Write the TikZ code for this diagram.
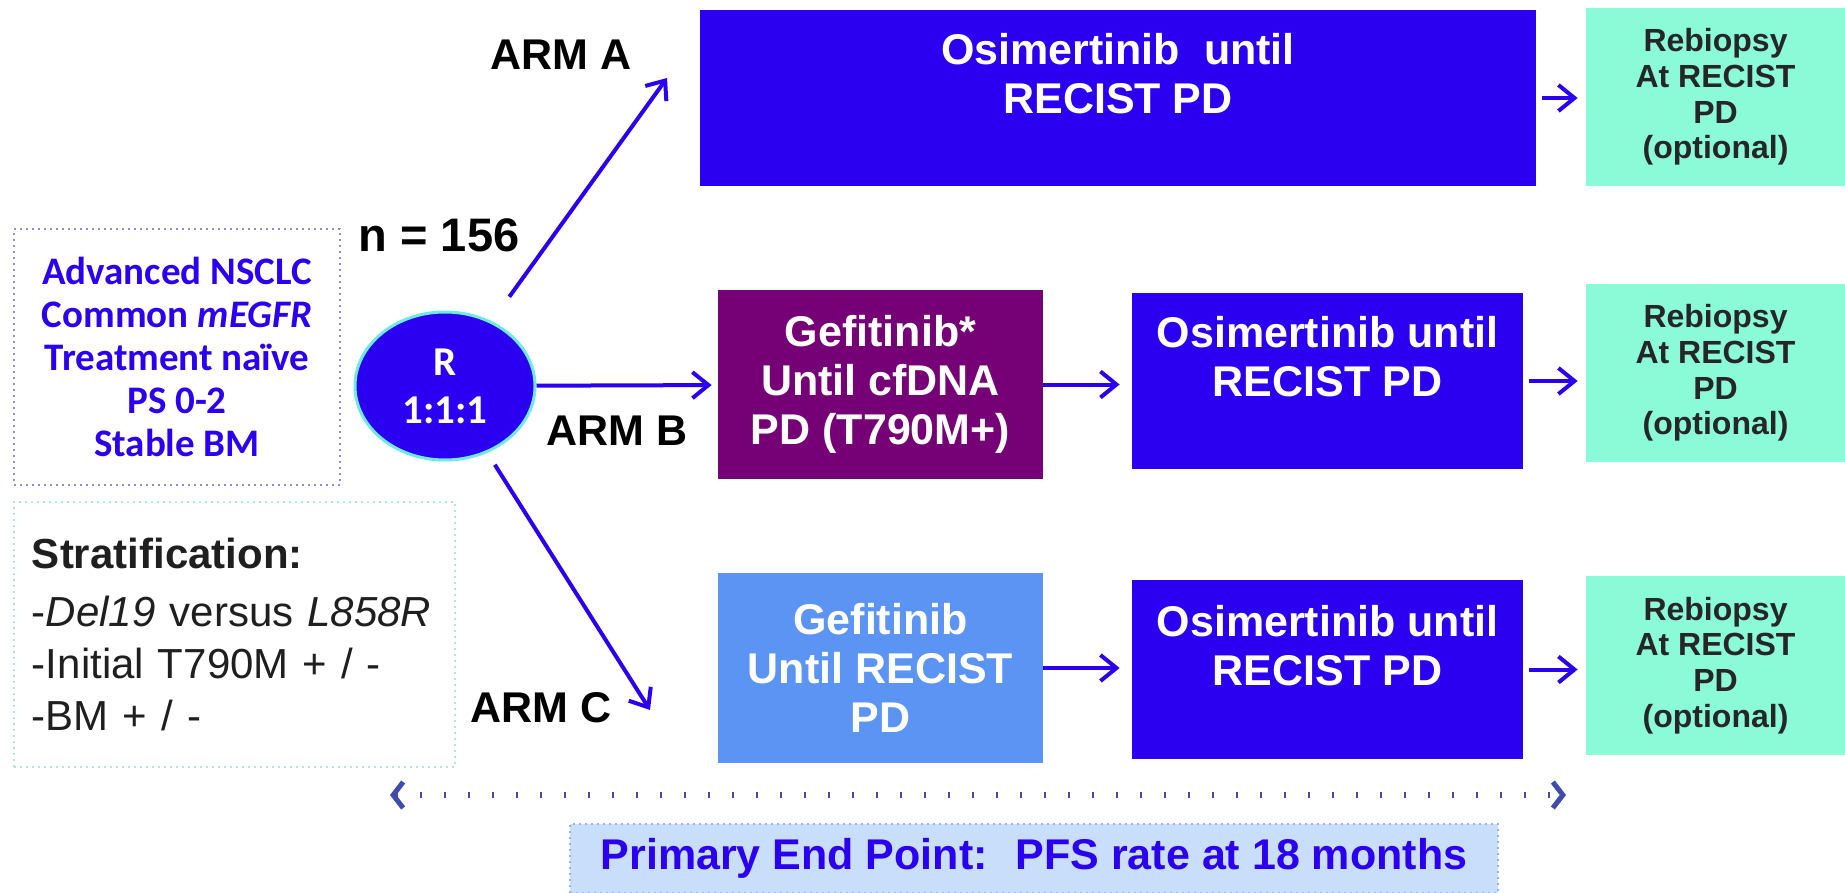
\documentclass[tikz,border=0pt]{standalone}
\usepackage{fontspec}
\setmainfont{Liberation Sans}
\newfontfamily\calib{Carlito}
\usetikzlibrary{shapes.geometric,arrows.meta}
\definecolor{armblue}{RGB}{43,0,240}
\definecolor{armpurple}{RGB}{118,0,118}
\definecolor{armsky}{RGB}{92,148,244}
\definecolor{rebio}{RGB}{138,250,215}
\definecolor{rring}{RGB}{110,235,225}
\definecolor{dotline}{RGB}{65,75,175}
\definecolor{pepfill}{RGB}{200,222,250}
\definecolor{pepline}{RGB}{150,180,240}
\definecolor{inclline}{RGB}{140,140,230}
\definecolor{stratline}{RGB}{185,225,225}

\begin{document}
\begin{tikzpicture}[x=0.5pt,y=-0.5pt,every node/.style={inner sep=0pt},
 drug/.style={fill=armblue,text=white,align=center,minimum width=195.5pt,minimum height=88pt,
  font=\fontsize{21.5}{24.5}\selectfont\bfseries},
 rebox/.style={fill=rebio,text=black!85,align=center,minimum width=129.5pt,minimum height=89pt,
  font=\fontsize{16}{17.8}\selectfont\bfseries},
 armlab/.style={font=\fontsize{21.5}{24}\selectfont\bfseries},
 arr/.style={draw=armblue,line width=2pt,-{Straight Barb[length=8pt,width=13pt]}}]
\useasboundingbox (0,0) rectangle (1845,893);
\fill[white] (0,0) rectangle (1845,893);
\node[drug,minimum width=418pt] (oA) at (1118,98) {Osimertinib~ until\\RECIST PD\\\mbox{}};
\node[drug] (oB) at (1327.5,381) {Osimertinib until\\RECIST PD\\\mbox{}};
\node[drug,minimum height=89.5pt] (oC) at (1327.5,669.5) {Osimertinib until\\RECIST PD\\\mbox{}};
\node[drug,fill=armpurple,minimum width=162.5pt,minimum height=94.5pt] (gB) at (880.5,384.5) {Gefitinib*\\Until cfDNA\\PD (T790M+)};
\node[drug,fill=armsky,minimum width=162.5pt,minimum height=95pt] (gC) at (880.5,668) {Gefitinib\\Until RECIST\\PD};
\node[rebox] (rA) at (1715.5,97) {Rebiopsy\\At RECIST\\PD\\(optional)};
\node[rebox] (rB) at (1715.5,373) {Rebiopsy\\At RECIST\\PD\\(optional)};
\node[rebox,minimum height=89.5pt] (rC) at (1715.5,665.5) {Rebiopsy\\At RECIST\\PD\\(optional)};
\node[ellipse,fill=armblue,draw=rring,line width=1.5pt,minimum width=90pt,minimum height=74pt,
 text=white,align=center,font=\calib\fontsize{20.5}{24}\selectfont\bfseries] (R) at (445,386) {R\\1:1:1};
\node[armlab] (lA) at (561,55) {ARM A};
\node[armlab] (lB) at (617,431) {ARM B};
\node[armlab] (lC) at (541,708) {ARM C};
\node[armlab,font=\fontsize{23.5}{28}\selectfont\bfseries] (n) at (439,235) {n = 156};
\node[draw=inclline,dotted,line width=1pt,minimum width=163pt,minimum height=128pt,text=armblue,align=center,
 font=\calib\fontsize{19.5}{21.5}\selectfont\bfseries] (incl) at (177,357)
 {Advanced NSCLC\\Common \textit{mEGFR}\\Treatment naïve\\PS 0-2\\Stable BM};
\node[draw=stratline,dotted,line width=1pt,text width=202.5pt,inner xsep=9pt,minimum height=132.5pt,align=left,
 text=black!88,font=\fontsize{21}{26}\selectfont] (strat) at (234.5,634.5)
 {\textbf{Stratification:}\\[3pt]-\textit{Del19} versus \textit{L858R}\\-Initial T790M + / -\\-BM + / -};
\node[fill=pepfill,draw=pepline,dotted,line width=1pt,minimum width=464pt,minimum height=34.5pt,text=armblue,
 font=\fontsize{21.5}{24}\selectfont\bfseries] (pep) at (1034,858.5) {Primary End Point:~ PFS rate at 18 months};
\coordinate (tA) at (667,78);
\coordinate (tC) at (650,710);
\coordinate (eL) at (390,795);
\coordinate (eR) at (1566,795);
\draw[arr,shorten <=15pt] (R) -- (tA);
\draw[arr,shorten >=3pt] (R) -- (gB);
\draw[arr,shorten <=7pt] (R) -- (tC);
\draw[arr,shorten >=6pt] (gB.east) -- (gB.east -| oB.west);
\draw[arr,shorten >=6pt] (gC.east) -- (gC.east -| oC.west);
\draw[arr,shorten <=3pt,shorten >=4pt] (oA.east) -- (oA.east -| rA.west);
\draw[arr,shorten <=3pt,shorten >=4pt] (oB.east) -- (oB.east -| rB.west);
\draw[arr,shorten <=3pt,shorten >=4pt] (oC.east) -- (oC.east -| rC.west);
\draw[dotline,line width=3pt,dash pattern=on 1pt off 11pt,
 {Straight Barb[length=5pt,width=13pt,line width=2.5pt]}-{Straight Barb[length=5pt,width=13pt,line width=2.5pt]}] (eL) -- (eR);
\end{tikzpicture}
\end{document}
